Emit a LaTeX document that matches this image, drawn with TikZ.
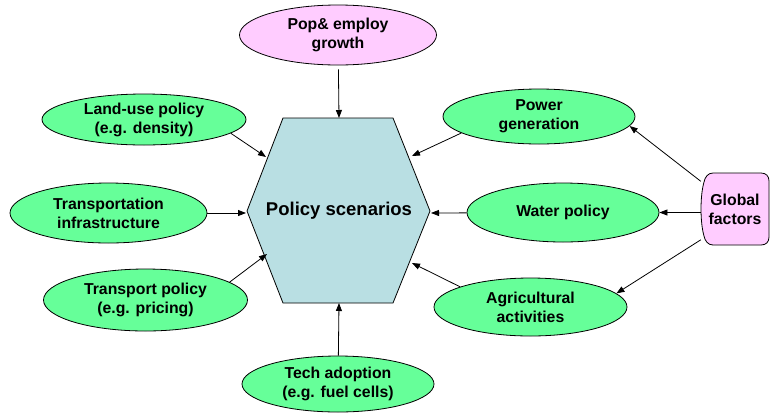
\documentclass[tikz,border=0pt]{standalone}
\usepackage{fontspec}
\setmainfont{Liberation Sans}
\usetikzlibrary{shapes.geometric,arrows.meta}
\definecolor{greenc}{RGB}{102,255,153}
\definecolor{pinkc}{RGB}{255,204,255}
\definecolor{hexc}{RGB}{185,223,227}
\tikzset{
  ell/.style={ellipse,draw=black,line width=0.8pt,fill=greenc,inner sep=0pt,align=center,
    font=\fontsize{15.8}{19}\selectfont\bfseries},
  arr/.style={draw=black,line width=0.8pt,-{Triangle[length=8pt,width=6pt]}},
  txt/.style={align=center,font=\fontsize{15.8}{19}\selectfont\bfseries}
}
\begin{document}
\begin{tikzpicture}[x=1pt,y=-1pt]
\useasboundingbox (0,0) rectangle (770,413);
% hexagon
\draw[fill=hexc,line width=0.8pt] (283,118) -- (393,118) -- (430,211) -- (393,303) -- (283,303) -- (247,211) -- cycle;
\node[font=\fontsize{18.5}{22}\selectfont\bfseries] (hex) at (339,211) {Policy scenarios};
\coordinate (htop) at (339,118);
\coordinate (hbot) at (339,303);
\coordinate (hl) at (246,213);
\coordinate (hr) at (431,213);
\coordinate (hlu) at (266,157);
\coordinate (htp) at (267,254);
\coordinate (hpw) at (412,156);
\coordinate (hag) at (412,263);
% nodes
\node[ell,fill=pinkc,minimum width=197pt,minimum height=60pt] (pop) at (338,35) {Pop\& employ\\growth};
\node[ell,minimum width=204pt,minimum height=51pt] (lu) at (144,119.5) {Land-use policy\\(e.g. density)};
\node[ell,minimum width=197pt,minimum height=60pt] (tr) at (108.5,213) {Transportation\\infrastructure};
\node[ell,minimum width=204pt,minimum height=62pt] (tp) at (145.5,300) {Transport policy\\(e.g. pricing)};
\node[ell,minimum width=192pt,minimum height=56pt] (tech) at (338,384) {Tech adoption\\(e.g. fuel cells)};
\node[ell,minimum width=192pt,minimum height=55pt] (pow) at (539,116.5) {Power\\generation};
\node[ell,minimum width=192pt,minimum height=59pt] (wat) at (563,212.5) {Water policy};
\node[ell,minimum width=193pt,minimum height=58pt] (ag) at (530.5,307) {Agricultural\\activities};
% global factors
\draw[fill=pinkc,line width=0.8pt] (713,173) -- (761,173) .. controls (766,173) and (769,176) .. (769,181) -- (769,237) .. controls (769,242) and (766,245) .. (761,245) -- (713,245) .. controls (708,245) and (705,241) .. (704,236) .. controls (700,222) and (700,196) .. (704,182) .. controls (705,177) and (708,173) .. (713,173) -- cycle;
\node[txt,minimum width=68pt,minimum height=72pt,inner sep=0pt] (glob) at (735,209) {Global\\factors};
% connectors
\draw[arr,shorten <=4pt] (pop) -- (htop);
\draw[arr] (lu.-9) -- (hlu);
\draw[arr] (tr) -- (hl);
\draw[arr] (tp.12) -- (htp);
\draw[arr] (tech) -- (hbot);
\draw[arr] (pow.-168) -- (hpw);
\draw[arr] (wat) -- (hr);
\draw[arr] (ag.164) -- (hag);
\draw[arr] (glob.141) -- (pow.-6);
\draw[arr] (glob.west |- wat.east) -- (wat.east);
\draw[arr] (glob.222) -- (ag.9);
\end{tikzpicture}
\end{document}
